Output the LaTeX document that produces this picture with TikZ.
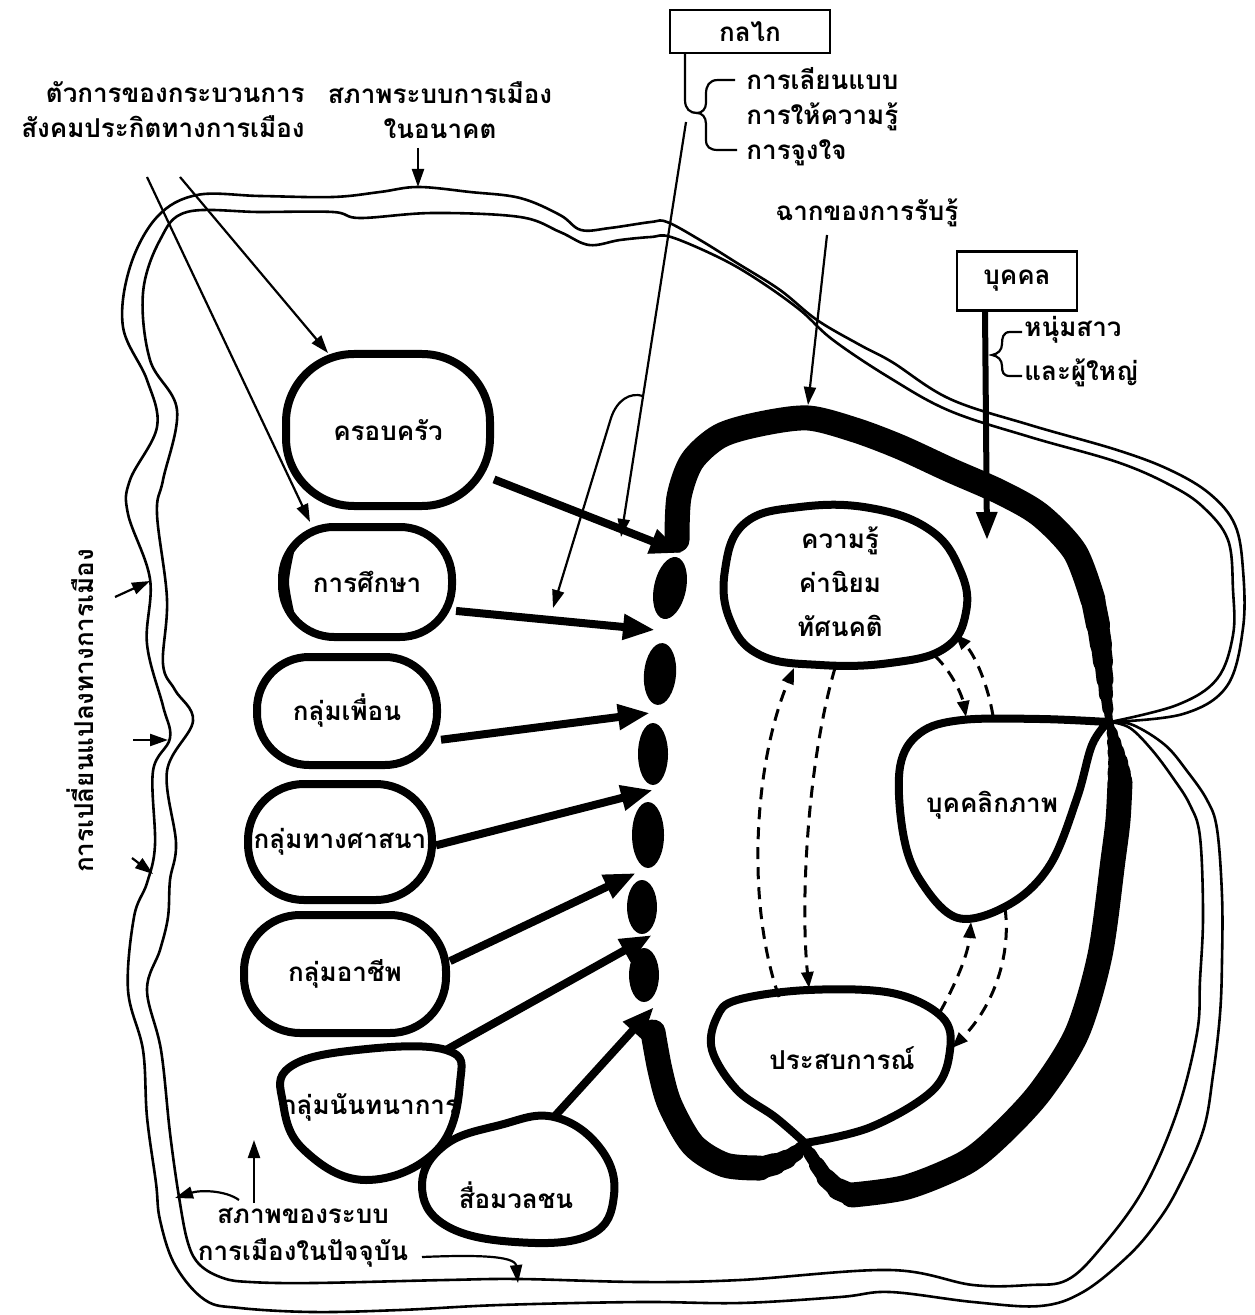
\documentclass[tikz,border=0pt]{standalone}
\usepackage{fontspec}
\newfontfamily\thai[Script=Thai]{Loma}
\usetikzlibrary{arrows.meta,shapes.geometric}
\begin{document}
\begin{tikzpicture}[x=0.5pt,y=-0.5pt,
  tfont/.style={font={\thai\bfseries\fontsize{13}{21}\selectfont}},
  lbl/.style={tfont, inner sep=0pt},
  grp/.style={draw, line width=4pt, inner sep=0pt, tfont},
  blobline/.style={line width=4pt, line join=round},
  boxnode/.style={draw, line width=1.3pt, inner sep=0pt, tfont},
  wave/.style={line width=1.3pt, line join=round},
  thinline/.style={line width=1.1pt},
  arr/.style={line width=1.1pt, -{Triangle[length=9pt,width=6pt]}},
  bigarrow/.style={line width=4pt, -{Triangle[length=16pt,width=12pt]}},
  dasharr/.style={line width=1.5pt, dash pattern=on 6pt off 4pt, -{Triangle[length=8pt,width=6pt]}},
  screen/.style={line width=12.5pt, line cap=round, line join=round},
  taper/.style={line width=#1, line cap=round},
  blot/.style={ellipse, fill=black, inner sep=0pt},
]
\fill[white] (0,0) rectangle (1254,1315);
\useasboundingbox (0,0) rectangle (1254,1315);

% ---------- outer double boundary ----------
\draw[wave] plot[smooth, tension=0.6] coordinates {
 (1110,722) (1133,725) (1165,745) (1187,771) (1207,800) (1217,829) (1222,896) (1222,960) (1220,1014)
 (1213,1075) (1203,1131) (1177,1190) (1155,1225) (1127,1257) (1083,1292) (1040,1306) (973,1302)
 (890,1292) (840,1297) (740,1303) (640,1302) (500,1305) (400,1310) (313,1312) (240,1308) (205,1300)
 (175,1265) (160,1220) (156,1183) (147,1117) (143,1050) (128,990) (134,917) (147,883) (155,845)
 (153,771) (170,738) (163,706) (147,644) (150,579) (128,514) (130,480) (157,427) (147,380) (123,327)
 (130,267) (157,217) (197,195) (260,196) (333,197) (380,192) (418,187) (470,192) (520,198) (560,215)
 (581,230) (610,228) (651,222) (667,222) (700,240) (737,263) (780,290) (817,320) (860,345) (892,362)
 (950,399) (1030,425) (1117,450) (1170,470) (1210,494) (1235,525) (1243,570) (1243,628) (1227,686)
 (1183,714) (1110,722)};
\draw[wave] plot[smooth, tension=0.6] coordinates {
 (1110,722) (1130,728) (1152,750) (1173,778) (1190,805) (1200,837) (1203,916) (1200,980) (1197,1033)
 (1177,1112) (1143,1190) (1100,1249) (1067,1280) (1030,1285) (973,1285) (890,1270) (740,1280)
 (640,1282) (520,1279) (446,1280) (313,1283) (250,1282) (223,1278) (200,1265) (188,1243) (179,1197)
 (170,1133) (161,1050) (147,990) (160,950) (168,917) (170,880) (176,843) (167,771) (193,721) (175,690)
 (163,664) (167,599) (157,514) (163,480) (177,410) (150,360) (143,293) (160,240) (187,212) (260,212)
 (333,212) (360,218) (433,213) (520,217) (560,232) (589,245) (620,240) (651,237) (671,237) (720,258)
 (758,280) (800,310) (833,340) (890,378) (950,411) (1030,437) (1117,462) (1170,485) (1203,507)
 (1228,540) (1233,590) (1233,635) (1217,679) (1177,705) (1110,722)};

% ---------- top labels ----------
\node[lbl, align=right, font={\thai\bfseries\fontsize{13}{17.5}\selectfont}] (agents) at (163,110) {ตัวการของกระบวนการ\\สังคมประกิตทางการเมือง};
\node[lbl, align=center, font={\thai\bfseries\fontsize{13}{17.5}\selectfont}] (future) at (440,110) {สภาพระบบการเมือง\\ในอนาคต};
\coordinate (futs) at (418,148);
\coordinate (futt) at (418,187);
\draw[arr] (futs) -- (futt);
\coordinate (la) at (147,177);
\coordinate (lb) at (180,177);

% ---------- mechanism box ----------
\node[boxnode, minimum width=80pt, minimum height=21.5pt] (mech) at (750,31.5) {กลไก};
\draw[thinline] (685,53) -- (685,100) .. controls (685,109) and (690,113) .. (697,113);
\draw[thinline] (735,80) -- (718,80) .. controls (709,80) and (706,86) .. (706,94) -- (706,103)
  .. controls (706,109) and (702,113) .. (697,113) .. controls (702,113) and (706,117) .. (706,124)
  -- (706,140) .. controls (706,147) and (710,150) .. (718,150) -- (737,150);
\node[lbl, align=left, anchor=west, font={\thai\bfseries\fontsize{13}{17.5}\selectfont}] (mlist) at (746,117) {การเลียนแบบ\\การให้ความรู้\\การจูงใจ};
\coordinate (mk) at (686,122);
\coordinate (mtip) at (621,537);
\draw[arr] (mk) -- (mtip);
\coordinate (mbr) at (643,396);
\coordinate (edutip) at (553,608);
\draw[arr] (mbr) .. controls (630,392) and (617,400) .. (611,418) -- (edutip);

% ---------- perception screen label ----------
\node[lbl] (scrlbl) at (867,213) {ฉากของการรับรู้};
\coordinate (scs) at (827,235);
\coordinate (sct) at (808,405);
\draw[arr] (scs) -- (sct);

% ---------- person box ----------
\node[boxnode, minimum width=60pt, minimum height=29.5pt] (person) at (1017,281) {บุคคล};
\coordinate (ps) at (985,311);
\coordinate (pt) at (987,540);
\draw[line width=3pt, -{Triangle[length=14pt,width=10pt]}] (ps) -- (pt);
\draw[thinline] (1022,332) -- (1010,332) .. controls (1003,332) and (1002,338) .. (1002,344)
  .. controls (1002,350) and (998,354) .. (992,355) .. controls (998,356) and (1002,360) .. (1002,366)
  .. controls (1002,372) and (1003,376) .. (1010,376) -- (1022,376);
\node[lbl, align=left, anchor=west, font={\thai\bfseries\fontsize{13}{22}\selectfont}] (ages) at (1024,352) {หนุ่มสาว\\และผู้ใหญ่};

% ---------- thick perception screen ----------
\draw[screen] plot[smooth] coordinates {(677,540) (679,497) (692,461) (720,436) (760,424) (808,418) (855,430) (900,447) (950,470) (1000,492) (1040,515) (1075,552) (1093,600)};
\draw[taper=12pt] (1093,600) -- (1098,625);
\draw[taper=11pt] (1098,625) -- (1101,645);
\draw[taper=10pt] (1101,645) -- (1103,662);
\draw[taper=8.5pt] (1103,662) -- (1105,680);
\draw[taper=7pt] (1105,680) -- (1106,695);
\draw[taper=5.5pt] (1106,695) -- (1108,710);
\draw[taper=4pt] (1108,710) -- (1109,722);
\draw[taper=4pt] (1109,722) -- (1112,732);
\draw[taper=5.5pt] (1112,732) -- (1114,742);
\draw[taper=7pt] (1114,742) -- (1116,752);
\draw[taper=8.5pt] (1116,752) -- (1118,762);
\draw[taper=10pt] (1118,762) -- (1119,772);
\draw[taper=11.5pt] (1119,772) -- (1120,782);
\draw[screen] plot[smooth] coordinates {(1120,782) (1118,820) (1113,860) (1100,955) (1077,1033) (1040,1092) (1000,1135) (965,1163) (907,1187) (852,1195)};
\draw[taper=11pt] (852,1195) -- (838,1189);
\draw[taper=9.5pt] (838,1189) -- (826,1178);
\draw[taper=8pt] (826,1178) -- (817,1165);
\draw[taper=6.5pt] (817,1165) -- (810,1154);
\draw[taper=5pt] (810,1154) -- (805,1145);
\draw[screen] plot[smooth] coordinates {(653,1032) (660,1070) (670,1105) (693,1145) (725,1165) (760,1168)};
\draw[taper=11pt] (760,1168) -- (775,1164);
\draw[taper=9.5pt] (775,1164) -- (787,1159);
\draw[taper=8pt] (787,1159) -- (796,1153);
\draw[taper=6.5pt] (796,1153) -- (801,1148);
\draw[taper=5pt] (801,1148) -- (805,1144);

% blots of the screen
\node[blot, minimum width=16pt, minimum height=31.5pt, rotate=-12] (b1) at (670,588) {};
\node[blot, minimum width=16pt, minimum height=31pt, rotate=-5] (b2) at (660,674) {};
\node[blot, minimum width=15pt, minimum height=31pt] (b3) at (653,754) {};
\node[blot, minimum width=16pt, minimum height=33pt] (b4) at (648,835) {};
\node[blot, minimum width=15pt, minimum height=27pt] (b5) at (642,907) {};
\node[blot, minimum width=15pt, minimum height=27pt] (b6) at (644,975) {};

% ---------- socialisation agents ----------
\node[grp, minimum width=102pt, minimum height=76pt, rounded corners=34pt] (fam) at (388,430) {ครอบครัว};
\node[grp, minimum width=85pt, minimum height=55pt, rounded corners=26pt] (edu) at (367,582) {การศึกษา};
\draw[line width=4pt] plot[smooth] coordinates {(290,552) (285,582) (290,612)};
\node[grp, minimum width=90pt, minimum height=54pt, rounded corners=26pt] (peer) at (347,711) {กลุ่มเพื่อน};
\node[grp, minimum width=92pt, minimum height=58pt, rounded corners=28pt] (rel) at (340,842) {กลุ่มทางศาสนา};
\node[grp, minimum width=101pt, minimum height=59pt, rounded corners=28pt] (occ) at (345,974) {กลุ่มอาชีพ};
\draw[blobline] plot[smooth cycle, tension=0.7] coordinates {(290,1067) (357,1050) (446,1050) (460,1083) (437,1150) (366,1180) (304,1150) (283,1103)};
\node[lbl] (rec) at (370,1107) {กลุ่มนันทนาการ};
\draw[blobline] plot[smooth cycle, tension=0.7] coordinates {(554,1117) (600,1148) (614,1195) (590,1235) (515,1242) (445,1225) (422,1185) (445,1145) (500,1125)};
\node[lbl] (media) at (516,1195) {สื่อมวลชน};

% arrows from the left labels to agents
\coordinate (famtip) at (328,353);
\coordinate (edutipa) at (310,522);
\draw[arr] (lb) -- (famtip);
\draw[arr] (la) -- (edutipa);

% gaps in the screen
\coordinate (t1) at (682,553);
\coordinate (t2) at (655,630);
\coordinate (t3) at (650,713);
\coordinate (t4) at (653,790);
\coordinate (t5) at (636,873);
\coordinate (t6) at (652,935);
\coordinate (t7) at (654,1007);
\coordinate (recs) at (446,1050);
\coordinate (meds) at (554,1117);
\draw[bigarrow] (fam.-25) -- (t1);
\draw[bigarrow] (edu.-18) -- (t2);
\draw[bigarrow] (peer.-17) -- (t3);
\draw[bigarrow] (rel.-2) -- (t4);
\draw[bigarrow] (occ.7) -- (t5);
\draw[bigarrow] (recs) -- (t6);
\draw[bigarrow] (meds) -- (t7);

% ---------- inner components ----------
\draw[blobline] plot[smooth cycle, tension=0.7] coordinates {(745,523) (800,507) (870,508) (930,530) (960,570) (966,612) (945,648) (890,663) (820,665) (760,655) (730,620) (725,570)};
\node[lbl, align=center, font={\thai\bfseries\fontsize{13}{22}\selectfont}] (know) at (840,582) {ความรู้\\ค่านิยม\\ทัศนคติ};
\draw[blobline] plot[smooth, tension=0.6] coordinates {(1108,722) (1040,719) (962,720) (920,733) (900,767) (903,833) (920,880) (958,918) (1010,904) (1050,865) (1077,798) (1092,745) (1108,722)};
\node[lbl] (pers) at (992,805) {บุคคลิกภาพ};
\draw[blobline] plot[smooth, tension=0.6] coordinates {(805,1143) (775,1117) (737,1090) (712,1050) (717,1017) (737,1000) (808,990) (892,993) (942,1017) (950,1050) (933,1090) (871,1127) (805,1143)};
\node[lbl] (exp) at (842,1058) {ประสบการณ์};

% dashed relations
\coordinate (k1) at (835,668);
\coordinate (e1) at (809,988);
\coordinate (e2) at (779,997);
\coordinate (k2) at (794,668);
\coordinate (k3) at (935,656);
\coordinate (p3) at (966,717);
\coordinate (p4) at (993,716);
\coordinate (k4) at (955,634);
\coordinate (e5) at (940,1012);
\coordinate (p5) at (971,922);
\coordinate (p6) at (1005,908);
\coordinate (e6) at (952,1048);
\draw[dasharr] (k1) .. controls (808,760) and (800,900) .. (e1);
\draw[dasharr] (e2) .. controls (745,900) and (755,760) .. (k2);
\draw[dasharr] (k3) .. controls (955,675) and (963,700) .. (p3);
\draw[dasharr] (p4) .. controls (988,685) and (975,655) .. (k4);
\draw[dasharr] (e5) .. controls (955,985) and (968,955) .. (p5);
\draw[dasharr] (p6) .. controls (1012,960) and (990,1010) .. (e6);

% ---------- left side ----------
\node[lbl, rotate=90] (change) at (80,711) {การเปลี่ยนแปลงทางการเมือง};
\coordinate (s1) at (115,597); \coordinate (s1t) at (150,581);
\coordinate (s2) at (133,740); \coordinate (s2t) at (168,740);
\coordinate (s3) at (132,858); \coordinate (s3t) at (153,874);
\draw[arr] (s1) -- (s1t);
\draw[arr] (s2) -- (s2t);
\draw[arr] (s3) -- (s3t);

% ---------- bottom label ----------
\node[lbl, align=center, font={\thai\bfseries\fontsize{13}{18.5}\selectfont}] (present) at (303,1238) {สภาพของระบบ\\การเมืองในปัจจุบัน};
\coordinate (u1) at (254,1203); \coordinate (u1t) at (254,1140);
\draw[arr] (u1) -- (u1t);
\coordinate (l1) at (239,1200); \coordinate (l1t) at (175,1198);
\draw[arr] (l1) .. controls (225,1190) and (200,1190) .. (l1t);
\coordinate (r1) at (422,1257); \coordinate (r1t) at (518,1283);
\draw[arr] (r1) .. controls (470,1255) and (515,1255) .. (r1t);
\end{tikzpicture}
\end{document}
